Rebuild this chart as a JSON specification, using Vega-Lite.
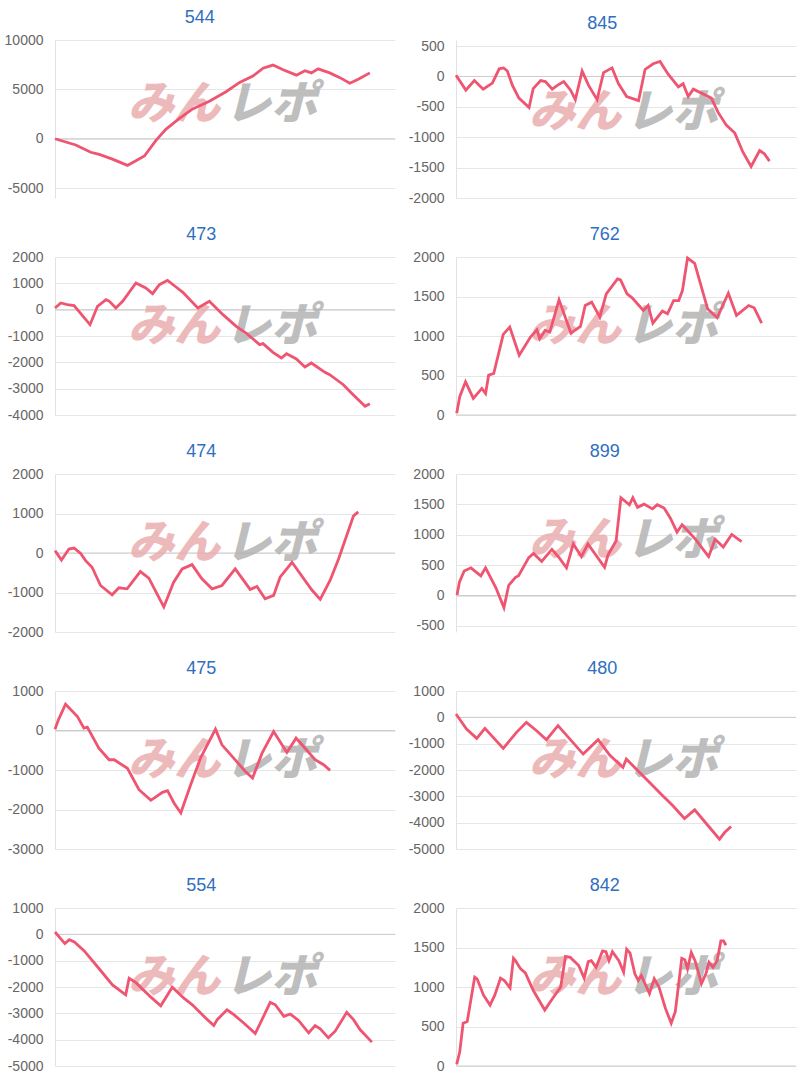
{
  "$schema": "https://vega.github.io/schema/vega-lite/v6.json",
  "background": "white",
  "padding": {"top": 9, "left": 4, "right": 0, "bottom": 0},
  "config": {
    "view": {"stroke": null},
    "font": "Liberation Sans",
    "style": {"group-title": {"fontSize": 18, "fontWeight": "normal"}},
    "title": {"fontSize": 18, "font": "Liberation Sans", "fontWeight": "normal", "color": "#2f6fbf", "anchor": "middle", "frame": "bounds", "offset": 6},
    "axisX": {"disable": true},
    "axisY": {"grid": true, "gridColor": "#e6e6e6", "domainColor": "#e2e2e2", "ticks": false, "labelFontSize": 14, "labelColor": "#666666", "labelPadding": 12, "labelFont": "Liberation Sans", "labelOverlap": false, "labelFlush": false, "labelExpr": "'' + datum.value", "title": null}
  },
  "data": {"values": [
    {"id":"544","x":0,"v":0},{"id":"544","x":6.1,"v":-630},{"id":"544","x":10.5,"v":-1370},{"id":"544","x":13,"v":-1590},{"id":"544","x":16.9,"v":-2060},{"id":"544","x":21.3,"v":-2700},{"id":"544","x":23.8,"v":-2220},{"id":"544","x":26.3,"v":-1750},{"id":"544","x":29.7,"v":-160},{"id":"544","x":32.6,"v":950},{"id":"544","x":36.6,"v":2060},{"id":"544","x":40.5,"v":3020},{"id":"544","x":45.4,"v":3800},{"id":"544","x":50.3,"v":4760},{"id":"544","x":54.3,"v":5700},{"id":"544","x":58.2,"v":6350},{"id":"544","x":61.2,"v":7140},{"id":"544","x":64.1,"v":7460},{"id":"544","x":67.1,"v":6980},{"id":"544","x":71.0,"v":6440},{"id":"544","x":73.5,"v":6890},{"id":"544","x":75.4,"v":6670},{"id":"544","x":77.4,"v":7080},{"id":"544","x":80.8,"v":6670},{"id":"544","x":83.8,"v":6190},{"id":"544","x":86.7,"v":5620},{"id":"544","x":89.2,"v":6030},{"id":"544","x":92.6,"v":6670},
    {"id":"845","x":0,"v":21},{"id":"845","x":2.9,"v":-225},{"id":"845","x":5.4,"v":-68},{"id":"845","x":8.0,"v":-209},{"id":"845","x":10.7,"v":-110},{"id":"845","x":12.7,"v":126},{"id":"845","x":14.0,"v":141},{"id":"845","x":15.1,"v":89},{"id":"845","x":16.6,"v":-147},{"id":"845","x":18.5,"v":-356},{"id":"845","x":21.5,"v":-513},{"id":"845","x":22.7,"v":-199},{"id":"845","x":24.9,"v":-68},{"id":"845","x":26.3,"v":-84},{"id":"845","x":28.3,"v":-209},{"id":"845","x":29.8,"v":-147},{"id":"845","x":31.7,"v":-84},{"id":"845","x":33.7,"v":-225},{"id":"845","x":35.1,"v":-382},{"id":"845","x":37.1,"v":89},{"id":"845","x":39.0,"v":-147},{"id":"845","x":41.5,"v":-382},{"id":"845","x":43.4,"v":63},{"id":"845","x":45.9,"v":141},{"id":"845","x":47.8,"v":-120},{"id":"845","x":50.2,"v":-330},{"id":"845","x":53.7,"v":-398},{"id":"845","x":55.6,"v":115},{"id":"845","x":58.0,"v":209},{"id":"845","x":60.0,"v":246},{"id":"845","x":62.4,"v":37},{"id":"845","x":65.4,"v":-173},{"id":"845","x":66.8,"v":-120},{"id":"845","x":68.3,"v":-330},{"id":"845","x":69.8,"v":-209},{"id":"845","x":75.1,"v":-356},{"id":"845","x":77.1,"v":-592},{"id":"845","x":79.5,"v":-801},{"id":"845","x":82.0,"v":-932},{"id":"845","x":84.4,"v":-1246},{"id":"845","x":86.8,"v":-1482},{"id":"845","x":89.3,"v":-1220},{"id":"845","x":90.7,"v":-1272},{"id":"845","x":92.2,"v":-1393},
    {"id":"473","x":0,"v":63},{"id":"473","x":1.7,"v":253},{"id":"473","x":3.6,"v":190},{"id":"473","x":5.6,"v":152},{"id":"473","x":10.3,"v":-570},{"id":"473","x":12.5,"v":127},{"id":"473","x":15.0,"v":380},{"id":"473","x":16.0,"v":317},{"id":"473","x":17.9,"v":63},{"id":"473","x":19.9,"v":317},{"id":"473","x":23.8,"v":1013},{"id":"473","x":26.7,"v":823},{"id":"473","x":28.7,"v":608},{"id":"473","x":30.7,"v":950},{"id":"473","x":33.1,"v":1114},{"id":"473","x":35.6,"v":861},{"id":"473","x":37.6,"v":658},{"id":"473","x":42.0,"v":63},{"id":"473","x":45.4,"v":317},{"id":"473","x":49.4,"v":-190},{"id":"473","x":53.3,"v":-633},{"id":"473","x":56.2,"v":-886},{"id":"473","x":60.2,"v":-1329},{"id":"473","x":61.2,"v":-1291},{"id":"473","x":64.1,"v":-1620},{"id":"473","x":66.6,"v":-1836},{"id":"473","x":68.1,"v":-1671},{"id":"473","x":71.0,"v":-1874},{"id":"473","x":73.5,"v":-2178},{"id":"473","x":75.4,"v":-2026},{"id":"473","x":79.4,"v":-2380},{"id":"473","x":80.8,"v":-2469},{"id":"473","x":84.8,"v":-2849},{"id":"473","x":87.7,"v":-3228},{"id":"473","x":91.2,"v":-3671},{"id":"473","x":92.6,"v":-3570},
    {"id":"762","x":0.2,"v":21},{"id":"762","x":1.1,"v":231},{"id":"762","x":2.8,"v":420},{"id":"762","x":5.1,"v":210},{"id":"762","x":7.6,"v":336},{"id":"762","x":8.7,"v":273},{"id":"762","x":9.6,"v":504},{"id":"762","x":11.1,"v":525},{"id":"762","x":13.9,"v":1021},{"id":"762","x":15.8,"v":1113},{"id":"762","x":18.6,"v":756},{"id":"762","x":21.9,"v":987},{"id":"762","x":23.8,"v":1079},{"id":"762","x":24.6,"v":966},{"id":"762","x":26.2,"v":1071},{"id":"762","x":27.6,"v":1050},{"id":"762","x":30.3,"v":1457},{"id":"762","x":33.8,"v":1037},{"id":"762","x":36.6,"v":1121},{"id":"762","x":38.0,"v":1386},{"id":"762","x":39.9,"v":1428},{"id":"762","x":42.3,"v":1239},{"id":"762","x":44.2,"v":1533},{"id":"762","x":47.5,"v":1722},{"id":"762","x":48.4,"v":1709},{"id":"762","x":50.3,"v":1533},{"id":"762","x":51.8,"v":1483},{"id":"762","x":55.1,"v":1323},{"id":"762","x":56.5,"v":1386},{"id":"762","x":57.9,"v":1163},{"id":"762","x":60.7,"v":1315},{"id":"762","x":62.2,"v":1281},{"id":"762","x":64.0,"v":1449},{"id":"762","x":65.5,"v":1449},{"id":"762","x":66.6,"v":1575},{"id":"762","x":68.1,"v":1987},{"id":"762","x":70.2,"v":1919},{"id":"762","x":74.0,"v":1344},{"id":"762","x":76.8,"v":1231},{"id":"762","x":80.1,"v":1541},{"id":"762","x":82.5,"v":1260},{"id":"762","x":86.1,"v":1386},{"id":"762","x":87.7,"v":1357},{"id":"762","x":89.9,"v":1163},
    {"id":"474","x":0,"v":59},{"id":"474","x":1.9,"v":-176},{"id":"474","x":4.1,"v":101},{"id":"474","x":5.6,"v":126},{"id":"474","x":7.5,"v":-8},{"id":"474","x":9.0,"v":-193},{"id":"474","x":10.9,"v":-361},{"id":"474","x":13.4,"v":-822},{"id":"474","x":16.8,"v":-1057},{"id":"474","x":18.8,"v":-881},{"id":"474","x":21.2,"v":-906},{"id":"474","x":25.1,"v":-470},{"id":"474","x":27.6,"v":-637},{"id":"474","x":32.0,"v":-1367},{"id":"474","x":34.9,"v":-738},{"id":"474","x":37.4,"v":-403},{"id":"474","x":40.3,"v":-294},{"id":"474","x":43.2,"v":-654},{"id":"474","x":46.2,"v":-906},{"id":"474","x":49.1,"v":-822},{"id":"474","x":53.0,"v":-403},{"id":"474","x":57.4,"v":-922},{"id":"474","x":59.4,"v":-847},{"id":"474","x":61.8,"v":-1157},{"id":"474","x":64.3,"v":-1073},{"id":"474","x":66.2,"v":-612},{"id":"474","x":69.7,"v":-235},{"id":"474","x":75.5,"v":-931},{"id":"474","x":78.0,"v":-1174},{"id":"474","x":80.9,"v":-696},{"id":"474","x":83.4,"v":-151},{"id":"474","x":87.8,"v":939},{"id":"474","x":89.2,"v":1040},
    {"id":"899","x":0.3,"v":10},{"id":"899","x":1.0,"v":220},{"id":"899","x":2.4,"v":404},{"id":"899","x":4.4,"v":456},{"id":"899","x":7.3,"v":325},{"id":"899","x":8.7,"v":456},{"id":"899","x":11.7,"v":131},{"id":"899","x":14.1,"v":-199},{"id":"899","x":15.5,"v":168},{"id":"899","x":17.5,"v":299},{"id":"899","x":18.4,"v":325},{"id":"899","x":21.4,"v":624},{"id":"899","x":22.8,"v":692},{"id":"899","x":25.2,"v":561},{"id":"899","x":28.2,"v":760},{"id":"899","x":30.1,"v":639},{"id":"899","x":32.5,"v":456},{"id":"899","x":34.5,"v":849},{"id":"899","x":36.9,"v":639},{"id":"899","x":38.8,"v":849},{"id":"899","x":43.7,"v":466},{"id":"899","x":44.7,"v":666},{"id":"899","x":47.1,"v":901},{"id":"899","x":48.5,"v":1609},{"id":"899","x":51.0,"v":1494},{"id":"899","x":52.0,"v":1609},{"id":"899","x":53.4,"v":1452},{"id":"899","x":55.3,"v":1504},{"id":"899","x":57.8,"v":1426},{"id":"899","x":59.2,"v":1494},{"id":"899","x":61.2,"v":1441},{"id":"899","x":63.1,"v":1268},{"id":"899","x":65.0,"v":1043},{"id":"899","x":66.5,"v":1164},{"id":"899","x":70.4,"v":928},{"id":"899","x":74.3,"v":639},{"id":"899","x":76.2,"v":928},{"id":"899","x":78.6,"v":797},{"id":"899","x":81.1,"v":1006},{"id":"899","x":84.0,"v":886},
    {"id":"475","x":0,"v":34},{"id":"475","x":1.0,"v":269},{"id":"475","x":3.1,"v":665},{"id":"475","x":6.6,"v":354},{"id":"475","x":8.5,"v":59},{"id":"475","x":9.5,"v":84},{"id":"475","x":12.9,"v":-446},{"id":"475","x":15.9,"v":-741},{"id":"475","x":17.4,"v":-741},{"id":"475","x":21.3,"v":-956},{"id":"475","x":24.7,"v":-1499},{"id":"475","x":28.2,"v":-1768},{"id":"475","x":31.6,"v":-1566},{"id":"475","x":33.1,"v":-1524},{"id":"475","x":35.0,"v":-1836},{"id":"475","x":37.0,"v":-2088},{"id":"475","x":39.9,"v":-1372},{"id":"475","x":42.8,"v":-699},{"id":"475","x":47.2,"v":34},{"id":"475","x":49.1,"v":-362},{"id":"475","x":52.1,"v":-657},{"id":"475","x":56.0,"v":-1036},{"id":"475","x":58.1,"v":-1204},{"id":"475","x":60.9,"v":-573},{"id":"475","x":64.3,"v":-25},{"id":"475","x":68.2,"v":-556},{"id":"475","x":70.9,"v":-194},{"id":"475","x":73.1,"v":-404},{"id":"475","x":76.5,"v":-741},{"id":"475","x":79.0,"v":-867},{"id":"475","x":80.9,"v":-1010},
    {"id":"480","x":0,"v":127},{"id":"480","x":3.1,"v":-444},{"id":"480","x":6.1,"v":-799},{"id":"480","x":8.5,"v":-418},{"id":"480","x":13.9,"v":-1179},{"id":"480","x":17.8,"v":-571},{"id":"480","x":20.7,"v":-190},{"id":"480","x":23.7,"v":-507},{"id":"480","x":26.6,"v":-850},{"id":"480","x":30.0,"v":-317},{"id":"480","x":37.4,"v":-1395},{"id":"480","x":41.8,"v":-850},{"id":"480","x":45.2,"v":-1433},{"id":"480","x":49.1,"v":-1902},{"id":"480","x":50.1,"v":-1585},{"id":"480","x":53.0,"v":-1965},{"id":"480","x":60.8,"v":-2980},{"id":"480","x":63.8,"v":-3360},{"id":"480","x":67.2,"v":-3842},{"id":"480","x":70.2,"v":-3512},{"id":"480","x":74.6,"v":-4184},{"id":"480","x":77.5,"v":-4628},{"id":"480","x":79.0,"v":-4375},{"id":"480","x":80.9,"v":-4146},
    {"id":"554","x":0,"v":88},{"id":"554","x":2.9,"v":-352},{"id":"554","x":4.2,"v":-201},{"id":"554","x":5.7,"v":-289},{"id":"554","x":8.6,"v":-628},{"id":"554","x":12.5,"v":-1231},{"id":"554","x":16.9,"v":-1922},{"id":"554","x":20.8,"v":-2298},{"id":"554","x":21.8,"v":-1671},{"id":"554","x":23.8,"v":-1834},{"id":"554","x":28.2,"v":-2386},{"id":"554","x":31.1,"v":-2713},{"id":"554","x":34.5,"v":-2010},{"id":"554","x":37.9,"v":-2424},{"id":"554","x":40.4,"v":-2675},{"id":"554","x":44.3,"v":-3178},{"id":"554","x":46.7,"v":-3467},{"id":"554","x":47.7,"v":-3240},{"id":"554","x":50.6,"v":-2864},{"id":"554","x":52.6,"v":-3052},{"id":"554","x":55.5,"v":-3366},{"id":"554","x":58.9,"v":-3768},{"id":"554","x":63.3,"v":-2587},{"id":"554","x":64.8,"v":-2675},{"id":"554","x":67.3,"v":-3115},{"id":"554","x":69.2,"v":-3027},{"id":"554","x":71.7,"v":-3278},{"id":"554","x":74.6,"v":-3743},{"id":"554","x":76.5,"v":-3467},{"id":"554","x":78.0,"v":-3592},{"id":"554","x":80.4,"v":-3931},{"id":"554","x":82.4,"v":-3680},{"id":"554","x":85.8,"v":-2964},{"id":"554","x":87.8,"v":-3240},{"id":"554","x":89.7,"v":-3617},{"id":"554","x":93.2,"v":-4094},
    {"id":"842","x":0.2,"v":21},{"id":"842","x":1.1,"v":179},{"id":"842","x":2.1,"v":542},{"id":"842","x":3.3,"v":562},{"id":"842","x":5.5,"v":1125},{"id":"842","x":6.2,"v":1104},{"id":"842","x":8.1,"v":896},{"id":"842","x":10.0,"v":771},{"id":"842","x":11.4,"v":896},{"id":"842","x":13.1,"v":1112},{"id":"842","x":14.2,"v":1083},{"id":"842","x":15.9,"v":988},{"id":"842","x":16.9,"v":1363},{"id":"842","x":17.5,"v":1333},{"id":"842","x":19.0,"v":1229},{"id":"842","x":20.4,"v":1179},{"id":"842","x":22.7,"v":958},{"id":"842","x":26.1,"v":708},{"id":"842","x":28.4,"v":854},{"id":"842","x":30.8,"v":1000},{"id":"842","x":32.2,"v":1388},{"id":"842","x":33.6,"v":1375},{"id":"842","x":36.1,"v":1271},{"id":"842","x":37.7,"v":1112},{"id":"842","x":38.9,"v":1321},{"id":"842","x":39.8,"v":1333},{"id":"842","x":41.2,"v":1250},{"id":"842","x":43.1,"v":1458},{"id":"842","x":44.1,"v":1446},{"id":"842","x":45.0,"v":1333},{"id":"842","x":46.0,"v":1446},{"id":"842","x":47.9,"v":1333},{"id":"842","x":49.3,"v":1188},{"id":"842","x":50.2,"v":1479},{"id":"842","x":51.2,"v":1429},{"id":"842","x":52.6,"v":1167},{"id":"842","x":53.6,"v":1083},{"id":"842","x":54.5,"v":1146},{"id":"842","x":55.9,"v":1013},{"id":"842","x":56.9,"v":917},{"id":"842","x":58.3,"v":1104},{"id":"842","x":59.7,"v":1000},{"id":"842","x":61.6,"v":729},{"id":"842","x":63.3,"v":542},{"id":"842","x":64.5,"v":688},{"id":"842","x":66.4,"v":1363},{"id":"842","x":67.3,"v":1346},{"id":"842","x":68.1,"v":1229},{"id":"842","x":69.2,"v":1438},{"id":"842","x":70.3,"v":1333},{"id":"842","x":72.2,"v":1042},{"id":"842","x":73.5,"v":1167},{"id":"842","x":74.4,"v":1313},{"id":"842","x":75.6,"v":1250},{"id":"842","x":76.8,"v":1333},{"id":"842","x":77.9,"v":1583},{"id":"842","x":78.7,"v":1583},{"id":"842","x":79.4,"v":1529}
  ]},
  "columns": 2,
  "spacing": {"row": 21, "column": 12},
  "concat": [
    {"title": "544", "width": 340, "height": 158, "layer": [
      {"data": {"values": [{"z": 0}]}, "mark": {"type": "rule", "color": "#cccccc"}, "encoding": {"y": {"datum": 0, "type": "quantitative", "axis": {"values": [-5000, 0, 5000, 10000]}}}},
      {"data": {"values": [{"w": "みん"}]}, "mark": {"type": "text", "align": "right", "baseline": "middle", "font": "Noto Sans CJK JP", "fontSize": 46, "fontWeight": 900, "fontStyle": "italic", "color": "#eaaeb0", "opacity": 0.85}, "encoding": {"x": {"datum": 48.5, "type": "quantitative"}, "y": {"datum": 3400, "type": "quantitative", "axis": {"values": [-5000, 0, 5000, 10000]}}, "text": {"field": "w"}}},
      {"data": {"values": [{"w": "レポ"}]}, "mark": {"type": "text", "align": "left", "baseline": "middle", "font": "Noto Sans CJK JP", "fontSize": 46, "fontWeight": 900, "fontStyle": "italic", "color": "#b3b3b3", "opacity": 0.85}, "encoding": {"x": {"datum": 50, "type": "quantitative"}, "y": {"datum": 3400, "type": "quantitative", "axis": {"values": [-5000, 0, 5000, 10000]}}, "text": {"field": "w"}}},
      {"transform": [{"filter": "datum.id === '544'"}], "mark": {"type": "line", "color": "#ef5470", "strokeWidth": 2.8}, "encoding": {"x": {"field": "x", "type": "quantitative", "scale": {"domain": [0, 100]}}, "y": {"field": "v", "type": "quantitative", "scale": {"domain": [-5000, 10000]}, "axis": {"values": [-5000, 0, 5000, 10000]}}}}
    ]},
    {"title": "845", "width": 340, "height": 158, "layer": [
      {"data": {"values": [{"z": 0}]}, "mark": {"type": "rule", "color": "#cccccc"}, "encoding": {"y": {"datum": 0, "type": "quantitative", "axis": {"values": [-2000, -1500, -1000, -500, 0, 500]}}}},
      {"data": {"values": [{"w": "みん"}]}, "mark": {"type": "text", "align": "right", "baseline": "middle", "font": "Noto Sans CJK JP", "fontSize": 46, "fontWeight": 900, "fontStyle": "italic", "color": "#eaaeb0", "opacity": 0.85}, "encoding": {"x": {"datum": 48.5, "type": "quantitative"}, "y": {"datum": -600, "type": "quantitative", "axis": {"values": [-2000, -1500, -1000, -500, 0, 500]}}, "text": {"field": "w"}}},
      {"data": {"values": [{"w": "レポ"}]}, "mark": {"type": "text", "align": "left", "baseline": "middle", "font": "Noto Sans CJK JP", "fontSize": 46, "fontWeight": 900, "fontStyle": "italic", "color": "#b3b3b3", "opacity": 0.85}, "encoding": {"x": {"datum": 50, "type": "quantitative"}, "y": {"datum": -600, "type": "quantitative", "axis": {"values": [-2000, -1500, -1000, -500, 0, 500]}}, "text": {"field": "w"}}},
      {"transform": [{"filter": "datum.id === '845'"}], "mark": {"type": "line", "color": "#ef5470", "strokeWidth": 2.8}, "encoding": {"x": {"field": "x", "type": "quantitative", "scale": {"domain": [0, 100]}}, "y": {"field": "v", "type": "quantitative", "scale": {"domain": [-2000, 500]}, "axis": {"values": [-2000, -1500, -1000, -500, 0, 500]}}}}
    ]},
    {"title": "473", "width": 340, "height": 158, "layer": [
      {"data": {"values": [{"z": 0}]}, "mark": {"type": "rule", "color": "#cccccc"}, "encoding": {"y": {"datum": 0, "type": "quantitative", "axis": {"values": [-4000, -3000, -2000, -1000, 0, 1000, 2000]}}}},
      {"data": {"values": [{"w": "みん"}]}, "mark": {"type": "text", "align": "right", "baseline": "middle", "font": "Noto Sans CJK JP", "fontSize": 46, "fontWeight": 900, "fontStyle": "italic", "color": "#eaaeb0", "opacity": 0.85}, "encoding": {"x": {"datum": 48.5, "type": "quantitative"}, "y": {"datum": -640, "type": "quantitative", "axis": {"values": [-4000, -3000, -2000, -1000, 0, 1000, 2000]}}, "text": {"field": "w"}}},
      {"data": {"values": [{"w": "レポ"}]}, "mark": {"type": "text", "align": "left", "baseline": "middle", "font": "Noto Sans CJK JP", "fontSize": 46, "fontWeight": 900, "fontStyle": "italic", "color": "#b3b3b3", "opacity": 0.85}, "encoding": {"x": {"datum": 50, "type": "quantitative"}, "y": {"datum": -640, "type": "quantitative", "axis": {"values": [-4000, -3000, -2000, -1000, 0, 1000, 2000]}}, "text": {"field": "w"}}},
      {"transform": [{"filter": "datum.id === '473'"}], "mark": {"type": "line", "color": "#ef5470", "strokeWidth": 2.8}, "encoding": {"x": {"field": "x", "type": "quantitative", "scale": {"domain": [0, 100]}}, "y": {"field": "v", "type": "quantitative", "scale": {"domain": [-4000, 2000]}, "axis": {"values": [-4000, -3000, -2000, -1000, 0, 1000, 2000]}}}}
    ]},
    {"title": "762", "width": 340, "height": 158, "layer": [
      {"data": {"values": [{"z": 0}]}, "mark": {"type": "rule", "color": "#cccccc"}, "encoding": {"y": {"datum": 0, "type": "quantitative", "axis": {"values": [0, 500, 1000, 1500, 2000]}}}},
      {"data": {"values": [{"w": "みん"}]}, "mark": {"type": "text", "align": "right", "baseline": "middle", "font": "Noto Sans CJK JP", "fontSize": 46, "fontWeight": 900, "fontStyle": "italic", "color": "#eaaeb0", "opacity": 0.85}, "encoding": {"x": {"datum": 48.5, "type": "quantitative"}, "y": {"datum": 1120, "type": "quantitative", "axis": {"values": [0, 500, 1000, 1500, 2000]}}, "text": {"field": "w"}}},
      {"data": {"values": [{"w": "レポ"}]}, "mark": {"type": "text", "align": "left", "baseline": "middle", "font": "Noto Sans CJK JP", "fontSize": 46, "fontWeight": 900, "fontStyle": "italic", "color": "#b3b3b3", "opacity": 0.85}, "encoding": {"x": {"datum": 50, "type": "quantitative"}, "y": {"datum": 1120, "type": "quantitative", "axis": {"values": [0, 500, 1000, 1500, 2000]}}, "text": {"field": "w"}}},
      {"transform": [{"filter": "datum.id === '762'"}], "mark": {"type": "line", "color": "#ef5470", "strokeWidth": 2.8}, "encoding": {"x": {"field": "x", "type": "quantitative", "scale": {"domain": [0, 100]}}, "y": {"field": "v", "type": "quantitative", "scale": {"domain": [0, 2000]}, "axis": {"values": [0, 500, 1000, 1500, 2000]}}}}
    ]},
    {"title": "474", "width": 340, "height": 158, "layer": [
      {"data": {"values": [{"z": 0}]}, "mark": {"type": "rule", "color": "#cccccc"}, "encoding": {"y": {"datum": 0, "type": "quantitative", "axis": {"values": [-2000, -1000, 0, 1000, 2000]}}}},
      {"data": {"values": [{"w": "みん"}]}, "mark": {"type": "text", "align": "right", "baseline": "middle", "font": "Noto Sans CJK JP", "fontSize": 46, "fontWeight": 900, "fontStyle": "italic", "color": "#eaaeb0", "opacity": 0.85}, "encoding": {"x": {"datum": 48.5, "type": "quantitative"}, "y": {"datum": 240, "type": "quantitative", "axis": {"values": [-2000, -1000, 0, 1000, 2000]}}, "text": {"field": "w"}}},
      {"data": {"values": [{"w": "レポ"}]}, "mark": {"type": "text", "align": "left", "baseline": "middle", "font": "Noto Sans CJK JP", "fontSize": 46, "fontWeight": 900, "fontStyle": "italic", "color": "#b3b3b3", "opacity": 0.85}, "encoding": {"x": {"datum": 50, "type": "quantitative"}, "y": {"datum": 240, "type": "quantitative", "axis": {"values": [-2000, -1000, 0, 1000, 2000]}}, "text": {"field": "w"}}},
      {"transform": [{"filter": "datum.id === '474'"}], "mark": {"type": "line", "color": "#ef5470", "strokeWidth": 2.8}, "encoding": {"x": {"field": "x", "type": "quantitative", "scale": {"domain": [0, 100]}}, "y": {"field": "v", "type": "quantitative", "scale": {"domain": [-2000, 2000]}, "axis": {"values": [-2000, -1000, 0, 1000, 2000]}}}}
    ]},
    {"title": "899", "width": 340, "height": 158, "layer": [
      {"data": {"values": [{"z": 0}]}, "mark": {"type": "rule", "color": "#cccccc"}, "encoding": {"y": {"datum": 0, "type": "quantitative", "axis": {"values": [-500, 0, 500, 1000, 1500, 2000]}}}},
      {"data": {"values": [{"w": "みん"}]}, "mark": {"type": "text", "align": "right", "baseline": "middle", "font": "Noto Sans CJK JP", "fontSize": 46, "fontWeight": 900, "fontStyle": "italic", "color": "#eaaeb0", "opacity": 0.85}, "encoding": {"x": {"datum": 48.5, "type": "quantitative"}, "y": {"datum": 900, "type": "quantitative", "axis": {"values": [-500, 0, 500, 1000, 1500, 2000]}}, "text": {"field": "w"}}},
      {"data": {"values": [{"w": "レポ"}]}, "mark": {"type": "text", "align": "left", "baseline": "middle", "font": "Noto Sans CJK JP", "fontSize": 46, "fontWeight": 900, "fontStyle": "italic", "color": "#b3b3b3", "opacity": 0.85}, "encoding": {"x": {"datum": 50, "type": "quantitative"}, "y": {"datum": 900, "type": "quantitative", "axis": {"values": [-500, 0, 500, 1000, 1500, 2000]}}, "text": {"field": "w"}}},
      {"transform": [{"filter": "datum.id === '899'"}], "mark": {"type": "line", "color": "#ef5470", "strokeWidth": 2.8}, "encoding": {"x": {"field": "x", "type": "quantitative", "scale": {"domain": [0, 100]}}, "y": {"field": "v", "type": "quantitative", "scale": {"domain": [-500, 2000]}, "axis": {"values": [-500, 0, 500, 1000, 1500, 2000]}}}}
    ]},
    {"title": "475", "width": 340, "height": 158, "layer": [
      {"data": {"values": [{"z": 0}]}, "mark": {"type": "rule", "color": "#cccccc"}, "encoding": {"y": {"datum": 0, "type": "quantitative", "axis": {"values": [-3000, -2000, -1000, 0, 1000]}}}},
      {"data": {"values": [{"w": "みん"}]}, "mark": {"type": "text", "align": "right", "baseline": "middle", "font": "Noto Sans CJK JP", "fontSize": 46, "fontWeight": 900, "fontStyle": "italic", "color": "#eaaeb0", "opacity": 0.85}, "encoding": {"x": {"datum": 48.5, "type": "quantitative"}, "y": {"datum": -760, "type": "quantitative", "axis": {"values": [-3000, -2000, -1000, 0, 1000]}}, "text": {"field": "w"}}},
      {"data": {"values": [{"w": "レポ"}]}, "mark": {"type": "text", "align": "left", "baseline": "middle", "font": "Noto Sans CJK JP", "fontSize": 46, "fontWeight": 900, "fontStyle": "italic", "color": "#b3b3b3", "opacity": 0.85}, "encoding": {"x": {"datum": 50, "type": "quantitative"}, "y": {"datum": -760, "type": "quantitative", "axis": {"values": [-3000, -2000, -1000, 0, 1000]}}, "text": {"field": "w"}}},
      {"transform": [{"filter": "datum.id === '475'"}], "mark": {"type": "line", "color": "#ef5470", "strokeWidth": 2.8}, "encoding": {"x": {"field": "x", "type": "quantitative", "scale": {"domain": [0, 100]}}, "y": {"field": "v", "type": "quantitative", "scale": {"domain": [-3000, 1000]}, "axis": {"values": [-3000, -2000, -1000, 0, 1000]}}}}
    ]},
    {"title": "480", "width": 340, "height": 158, "layer": [
      {"data": {"values": [{"z": 0}]}, "mark": {"type": "rule", "color": "#cccccc"}, "encoding": {"y": {"datum": 0, "type": "quantitative", "axis": {"values": [-5000, -4000, -3000, -2000, -1000, 0, 1000]}}}},
      {"data": {"values": [{"w": "みん"}]}, "mark": {"type": "text", "align": "right", "baseline": "middle", "font": "Noto Sans CJK JP", "fontSize": 46, "fontWeight": 900, "fontStyle": "italic", "color": "#eaaeb0", "opacity": 0.85}, "encoding": {"x": {"datum": 48.5, "type": "quantitative"}, "y": {"datum": -1640, "type": "quantitative", "axis": {"values": [-5000, -4000, -3000, -2000, -1000, 0, 1000]}}, "text": {"field": "w"}}},
      {"data": {"values": [{"w": "レポ"}]}, "mark": {"type": "text", "align": "left", "baseline": "middle", "font": "Noto Sans CJK JP", "fontSize": 46, "fontWeight": 900, "fontStyle": "italic", "color": "#b3b3b3", "opacity": 0.85}, "encoding": {"x": {"datum": 50, "type": "quantitative"}, "y": {"datum": -1640, "type": "quantitative", "axis": {"values": [-5000, -4000, -3000, -2000, -1000, 0, 1000]}}, "text": {"field": "w"}}},
      {"transform": [{"filter": "datum.id === '480'"}], "mark": {"type": "line", "color": "#ef5470", "strokeWidth": 2.8}, "encoding": {"x": {"field": "x", "type": "quantitative", "scale": {"domain": [0, 100]}}, "y": {"field": "v", "type": "quantitative", "scale": {"domain": [-5000, 1000]}, "axis": {"values": [-5000, -4000, -3000, -2000, -1000, 0, 1000]}}}}
    ]},
    {"title": "554", "width": 340, "height": 158, "layer": [
      {"data": {"values": [{"z": 0}]}, "mark": {"type": "rule", "color": "#cccccc"}, "encoding": {"y": {"datum": 0, "type": "quantitative", "axis": {"values": [-5000, -4000, -3000, -2000, -1000, 0, 1000]}}}},
      {"data": {"values": [{"w": "みん"}]}, "mark": {"type": "text", "align": "right", "baseline": "middle", "font": "Noto Sans CJK JP", "fontSize": 46, "fontWeight": 900, "fontStyle": "italic", "color": "#eaaeb0", "opacity": 0.85}, "encoding": {"x": {"datum": 48.5, "type": "quantitative"}, "y": {"datum": -1640, "type": "quantitative", "axis": {"values": [-5000, -4000, -3000, -2000, -1000, 0, 1000]}}, "text": {"field": "w"}}},
      {"data": {"values": [{"w": "レポ"}]}, "mark": {"type": "text", "align": "left", "baseline": "middle", "font": "Noto Sans CJK JP", "fontSize": 46, "fontWeight": 900, "fontStyle": "italic", "color": "#b3b3b3", "opacity": 0.85}, "encoding": {"x": {"datum": 50, "type": "quantitative"}, "y": {"datum": -1640, "type": "quantitative", "axis": {"values": [-5000, -4000, -3000, -2000, -1000, 0, 1000]}}, "text": {"field": "w"}}},
      {"transform": [{"filter": "datum.id === '554'"}], "mark": {"type": "line", "color": "#ef5470", "strokeWidth": 2.8}, "encoding": {"x": {"field": "x", "type": "quantitative", "scale": {"domain": [0, 100]}}, "y": {"field": "v", "type": "quantitative", "scale": {"domain": [-5000, 1000]}, "axis": {"values": [-5000, -4000, -3000, -2000, -1000, 0, 1000]}}}}
    ]},
    {"title": "842", "width": 340, "height": 158, "layer": [
      {"data": {"values": [{"z": 0}]}, "mark": {"type": "rule", "color": "#cccccc"}, "encoding": {"y": {"datum": 0, "type": "quantitative", "axis": {"values": [0, 500, 1000, 1500, 2000]}}}},
      {"data": {"values": [{"w": "みん"}]}, "mark": {"type": "text", "align": "right", "baseline": "middle", "font": "Noto Sans CJK JP", "fontSize": 46, "fontWeight": 900, "fontStyle": "italic", "color": "#eaaeb0", "opacity": 0.85}, "encoding": {"x": {"datum": 48.5, "type": "quantitative"}, "y": {"datum": 1120, "type": "quantitative", "axis": {"values": [0, 500, 1000, 1500, 2000]}}, "text": {"field": "w"}}},
      {"data": {"values": [{"w": "レポ"}]}, "mark": {"type": "text", "align": "left", "baseline": "middle", "font": "Noto Sans CJK JP", "fontSize": 46, "fontWeight": 900, "fontStyle": "italic", "color": "#b3b3b3", "opacity": 0.85}, "encoding": {"x": {"datum": 50, "type": "quantitative"}, "y": {"datum": 1120, "type": "quantitative", "axis": {"values": [0, 500, 1000, 1500, 2000]}}, "text": {"field": "w"}}},
      {"transform": [{"filter": "datum.id === '842'"}], "mark": {"type": "line", "color": "#ef5470", "strokeWidth": 2.8}, "encoding": {"x": {"field": "x", "type": "quantitative", "scale": {"domain": [0, 100]}}, "y": {"field": "v", "type": "quantitative", "scale": {"domain": [0, 2000]}, "axis": {"values": [0, 500, 1000, 1500, 2000]}}}}
    ]}
  ]
}
